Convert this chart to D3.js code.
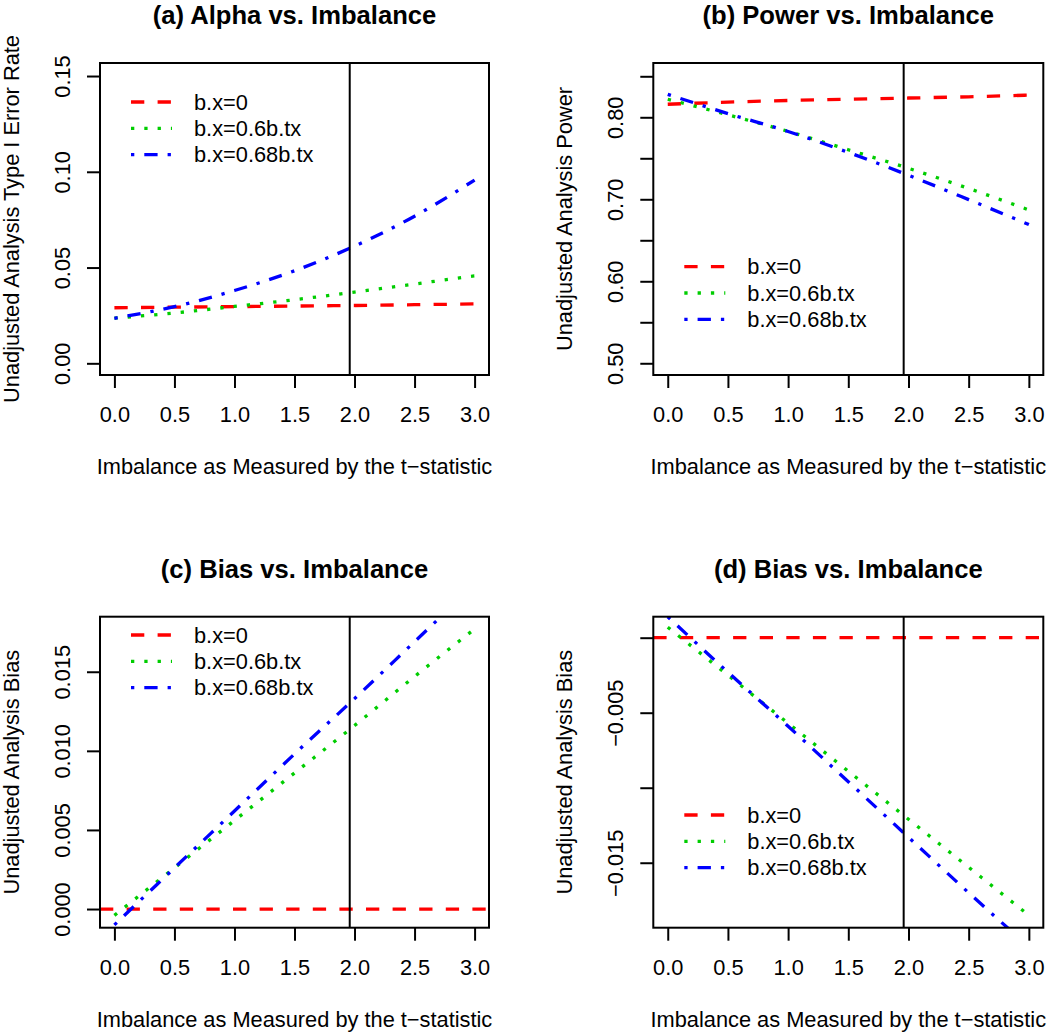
<!DOCTYPE html>
<html><head><meta charset="utf-8">
<script src="https://cdn.jsdelivr.net/npm/d3@7"></script>
<style>
body{margin:0;background:#fff}
svg{display:block}
text{font-family:"Liberation Sans",Arial,Helvetica,sans-serif;fill:#000}
</style>
</head><body>
<svg id="chart" width="1050" height="1032"></svg>
<script>
// ---------- data ----------
const xVals = [0, 0.5, 1.0, 1.5, 2.0, 2.5, 3.0];
const xTicks = [0, 0.5, 1.0, 1.5, 2.0, 2.5, 3.0];
const xTickLabels = ["0.0", "0.5", "1.0", "1.5", "2.0", "2.5", "3.0"];
const cutoff = 1.96;
const legendLabels = ["b.x=0", "b.x=0.6b.tx", "b.x=0.68b.tx"];

const alphaRed   = [0.0290, 0.0293, 0.0296, 0.0299, 0.0302, 0.0306, 0.0310];
const alphaGreen = [0.0236, 0.0263, 0.0297, 0.0332, 0.0372, 0.0414, 0.0457];
const alphaBlue  = [0.0235, 0.0296, 0.0380, 0.0483, 0.0612, 0.0768, 0.0957];
const alphaYTicks = [0, 0.05, 0.10, 0.15];
const alphaYLabels = ["0.00", "0.05", "0.10", "0.15"];

const powerRed   = [0.8159, 0.8185, 0.8205, 0.8220, 0.8235, 0.8250, 0.8270];
const powerGreen = [0.8220, 0.8030, 0.7828, 0.7604, 0.7378, 0.7132, 0.6870];
const powerBlue  = [0.8280, 0.8045, 0.7827, 0.7572, 0.7293, 0.6996, 0.6692];
const powerYTicks = [0.50, 0.55, 0.60, 0.65, 0.70, 0.75, 0.80, 0.85];
const powerYLabels = ["0.50", "", "0.60", "", "0.70", "", "0.80", ""];

const biasCRed   = [0, 0, 0, 0, 0, 0, 0];
const biasCGreen = [-0.0004, 0.0026, 0.0056, 0.0086, 0.0116, 0.0147, 0.0177];
const biasCBlue  = [-0.0010, 0.0026, 0.0062, 0.0098, 0.0133, 0.0169, 0.0205];
const biasCYTicks = [0, 0.005, 0.010, 0.015];
const biasCYLabels = ["0.000", "0.005", "0.010", "0.015"];

const biasDRed   = [0, 0, 0, 0, 0, 0, 0];
const biasDGreen = [0.0007, -0.0025, -0.0057, -0.0089, -0.0121, -0.0153, -0.0185];
const biasDBlue  = [0.0014, -0.0023, -0.0059, -0.0096, -0.0133, -0.0170, -0.0206];
const biasDYTicks = [0, -0.005, -0.010, -0.015];
const biasDYLabels = ["", "\u22120.005", "", "\u22120.015"];

// ---------- styles ----------
const colors = ["#FF0000", "#00CD00", "#0000FF"];
const dashes = ["13.3,13.3", "3.3,10", "3.3,10,13.3,10"];
const FS = 21.8;
const LW = 3.3;

const svg = d3.select("#chart");
svg.append("rect").attr("width", 1050).attr("height", 1032).attr("fill", "#fff");

const panels = [
  {id: "a", box: [100, 489, 63, 375], title: "(a) Alpha vs. Imbalance",
   ytitle: "Unadjusted Analysis Type I Error Rate", yDomain: [-0.0061, 0.1568],
   yTicks: alphaYTicks, yLabels: alphaYLabels,
   series: [alphaRed, alphaGreen, alphaBlue], hline: false, legendTop: 39},
  {id: "b", box: [653.3, 1043.3, 63, 375], title: "(b) Power vs. Imbalance",
   ytitle: "Unadjusted Analysis Power", yDomain: [0.4857, 0.8662],
   yTicks: powerYTicks, yLabels: powerYLabels,
   series: [powerRed, powerGreen, powerBlue], hline: false, legendTop: 203.7},
  {id: "c", box: [100, 489, 616.7, 927.7], title: "(c) Bias vs. Imbalance",
   ytitle: "Unadjusted Analysis Bias", yDomain: [-0.00118, 0.01848],
   yTicks: biasCYTicks, yLabels: biasCYLabels,
   series: [biasCRed, biasCGreen, biasCBlue], hline: true, legendTop: 18.3},
  {id: "d", box: [653.3, 1043.3, 616.7, 927.7], title: "(d) Bias vs. Imbalance",
   ytitle: "Unadjusted Analysis Bias", yDomain: [-0.01933, 0.0014],
   yTicks: biasDYTicks, yLabels: biasDYLabels,
   series: [biasDRed, biasDGreen, biasDBlue], hline: true, legendTop: 198.3}
];

panels.forEach(p => {
  const [L, R, T, B] = p.box;
  const x = d3.scaleLinear().domain([-0.12, 3.12]).range([L, R]);
  const y = d3.scaleLinear().domain(p.yDomain).range([B, T]);
  const g = svg.append("g");

  const clipId = "clip-" + p.id;
  g.append("clipPath").attr("id", clipId)
    .append("rect").attr("x", L).attr("y", T).attr("width", R - L).attr("height", B - T);

  const plot = g.append("g").attr("clip-path", `url(#${clipId})`);

  p.series.forEach((vals, i) => {
    const pts = xVals.map((xv, k) => [xv, vals[k]]);
    if (i === 0 && p.hline) {
      // horizontal reference (abline) across the plot region
      const v = vals[0];
      plot.append("line")
        .attr("x1", x.range()[0]).attr("x2", x.range()[1])
        .attr("y1", y(v)).attr("y2", y(v))
        .attr("stroke", colors[i]).attr("stroke-width", LW)
        .attr("stroke-dasharray", dashes[i]);
    } else {
      const line = d3.line().x(d => x(d[0])).y(d => y(d[1])).curve(d3.curveMonotoneX);
      plot.append("path").attr("d", line(pts))
        .attr("fill", "none").attr("stroke", colors[i]).attr("stroke-width", LW)
        .attr("stroke-dasharray", dashes[i]);
    }
  });

  // vertical cutoff line
  g.append("line").attr("x1", x(cutoff)).attr("x2", x(cutoff))
    .attr("y1", T).attr("y2", B).attr("stroke", "#000").attr("stroke-width", 2);

  // box
  g.append("rect").attr("x", L).attr("y", T).attr("width", R - L).attr("height", B - T)
    .attr("fill", "none").attr("stroke", "#000").attr("stroke-width", 2);

  // x axis
  const xa = g.append("g").attr("transform", `translate(0,${B})`)
    .call(d3.axisBottom(x).tickValues(xTicks).tickSize(13)
      .tickFormat((d, i) => xTickLabels[i]));
  xa.select(".domain").remove();
  xa.selectAll(".tick line").attr("stroke", "#000").attr("stroke-width", 2);
  xa.selectAll(".tick text").attr("y", 47).attr("dy", null)
    .style("font-size", FS + "px").style("font-family", "Liberation Sans, Arial, sans-serif")
    .attr("fill", "#000");

  // y axis
  const ya = g.append("g").attr("transform", `translate(${L},0)`)
    .call(d3.axisLeft(y).tickValues(p.yTicks).tickSize(13)
      .tickFormat((d, i) => p.yLabels[i]));
  ya.select(".domain").remove();
  ya.selectAll(".tick line").attr("stroke", "#000").attr("stroke-width", 2);
  ya.selectAll(".tick text")
    .attr("x", null).attr("y", null).attr("dy", null)
    .attr("text-anchor", "middle")
    .attr("transform", "translate(-30,0) rotate(-90)")
    .style("font-size", FS + "px").style("font-family", "Liberation Sans, Arial, sans-serif")
    .attr("fill", "#000");

  // title
  g.append("text").attr("x", (L + R) / 2).attr("y", T - 39)
    .attr("text-anchor", "middle").attr("font-weight", "bold")
    .attr("font-size", 25.6).text(p.title);

  // x title
  g.append("text").attr("x", (L + R) / 2).attr("y", B + 99)
    .attr("text-anchor", "middle").attr("font-size", FS)
    .text("Imbalance as Measured by the t\u2212statistic");

  // y title
  g.append("text").attr("transform", `translate(${L - 81},${(T + B) / 2}) rotate(-90)`)
    .attr("text-anchor", "middle").attr("font-size", FS).text(p.ytitle);

  // legend
  legendLabels.forEach((lab, i) => {
    const ry = T + p.legendTop + i * 26.3;
    g.append("line").attr("x1", L + 31).attr("x2", L + 72).attr("y1", ry).attr("y2", ry)
      .attr("stroke", colors[i]).attr("stroke-width", LW)
      .attr("stroke-dasharray", dashes[i]);
    g.append("text").attr("x", L + 94).attr("y", ry + 7.7)
      .attr("font-size", FS).text(lab);
  });
});
</script>
</body></html>
